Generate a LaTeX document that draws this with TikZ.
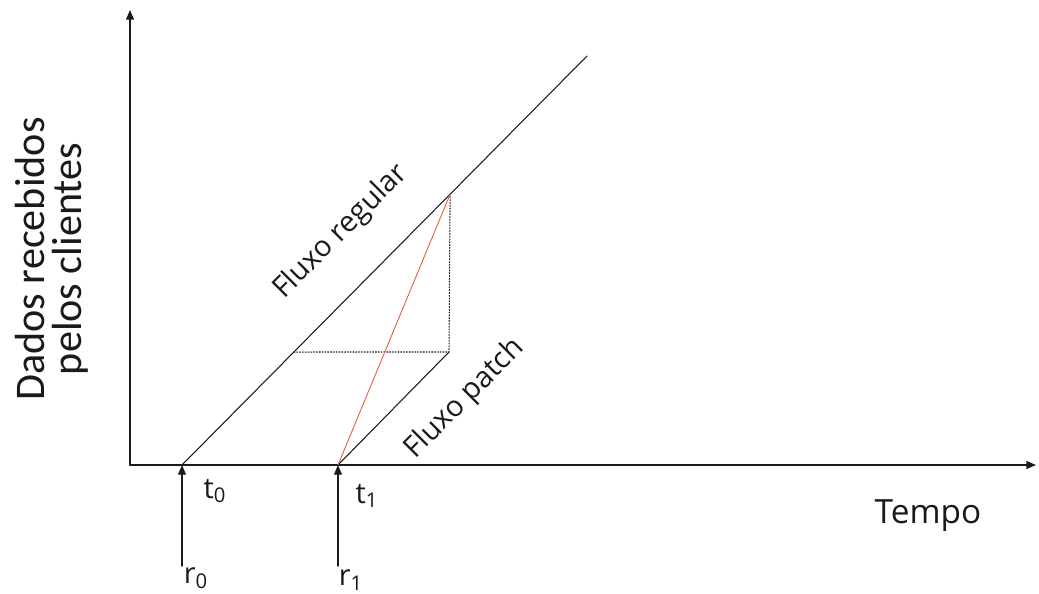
\documentclass[tikz,border=0pt]{standalone}
\usepackage{fontspec}
\setmainfont{Open Sans}
\newfontfamily\axisfont{Carlito}
\usetikzlibrary{arrows.meta,calc,positioning}
\definecolor{fluxink}{HTML}{1A1A1A}
\definecolor{fluxred}{HTML}{E0603A}

\begin{document}
\begin{tikzpicture}[x=0.02cm,y=-0.02cm,line cap=round,line join=round,
  text=fluxink,
  axis/.style={draw=fluxink,line width=0.8pt,-{Triangle[length=5.5pt,width=4.5pt]}},
  flux/.style={draw=fluxink,line width=0.6pt},
  guide/.style={draw=fluxink,densely dotted,line width=0.6pt},
  req/.style={draw=fluxink,line width=0.8pt,-{Triangle[length=5.5pt,width=4.5pt]}},
  lbl/.style={font=\fontsize{16.5}{19}\selectfont,inner sep=1pt},
  tick/.style={font=\fontsize{16.5}{19}\selectfont,inner sep=1pt}]
\path[use as bounding box] (0,0) rectangle (1039,594);
\fill[white] (0,0) rectangle (1039,594);

% eixos
\coordinate (O) at (130,465);
\coordinate (ytip) at (130,10);
\coordinate (xtip) at (1036,465);
\draw[axis] (O) -- (ytip);
\draw[axis] (O) -- (xtip);
\node[font=\axisfont\fontsize{24}{21}\selectfont,rotate=90,align=center]
  (ylab) at (52,259) {Dados recebidos\\pelos clientes};
\node[lbl,font=\fontsize{19}{23}\selectfont] (tempo) at (928,516) {Tempo};

% fluxo regular e fluxo patch
\coordinate (t0) at (182,465);
\coordinate (t1) at (338,465);
\coordinate (regend) at (587,56);
\coordinate (top) at ($(t0)!0.662!(regend)$);
\coordinate (corner) at (449,352);
\coordinate (hleft) at (200,352);
\coordinate (meet) at (intersection of t0--regend and corner--hleft);
\draw[flux] (t0) -- (regend);
\draw[flux] (t1) -- (corner);
\draw[guide] (meet) -- (corner) -- (top);
\draw[fluxred,line width=0.5pt] (t1) -- (top);
\node[lbl,rotate=45] (reglab) at (341,232) {Fluxo regular};
\node[lbl,rotate=45] (patchlab) at (465,399) {Fluxo patch};

% pedidos r0, r1
\coordinate (r0base) at (182,566);
\coordinate (r1base) at (338,566);
\draw[req] (r0base) -- (t0);
\draw[req] (r1base) -- (t1);
\node[tick] (t0lab) at (215,491) {t\textsubscript{0}};
\node[tick] (t1lab) at (367,496) {t\textsubscript{1}};
\node[tick] (r0lab) at (196,578) {r\textsubscript{0}};
\node[tick] (r1lab) at (351,580) {r\textsubscript{1}};
\end{tikzpicture}
\end{document}
